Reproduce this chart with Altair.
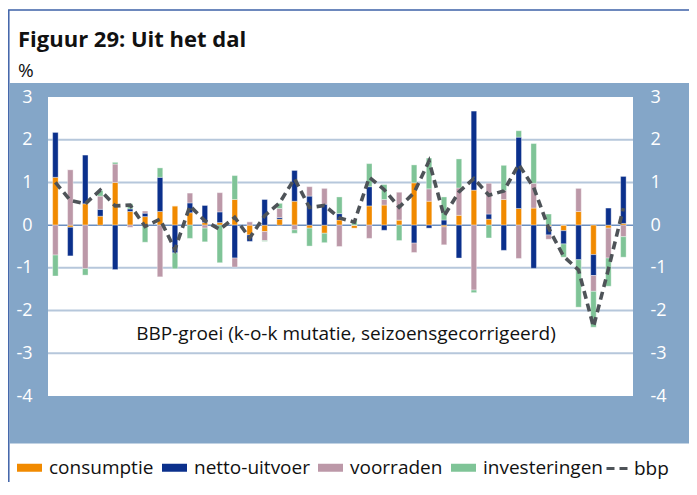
import json
import altair as alt
import pandas as pd

# ---- data ----
years = ["00", "01", "02", "03", "04", "05", "06", "07", "08", "09"]
series_names = ["consumptie", "netto-uitvoer", "voorraden", "investeringen"]
series_colors = ["#F18A00", "#0B308C", "#BC98A8", "#7FC497"]

consumptie = [1.12, -0.05, 0.50, 0.21, 1.00, 0.32, 0.20, 0.32, 0.45, 0.29,
              0.06, 0.06, 0.60, -0.23, -0.15, 0.14, 0.56, -0.07, -0.19, 0.12,
              -0.07, 0.45, 0.47, 0.12, 0.99, 0.56, -0.04, 0.23, 0.82, 0.14,
              0.60, 0.39, 0.40, -0.03, -0.13, 0.32, -0.69, -0.07, 0.04]
netto_uitvoer = [1.05, -0.67, 1.14, 0.16, -1.04, 0.06, 0.08, 0.80, -0.65, 0.23,
                 0.40, 0.25, -0.77, -0.15, 0.60, 0.04, 0.72, 0.68, 0.49, 0.15,
                 0.00, 0.45, -0.12, 0.00, -0.42, -0.07, 0.12, -0.77, 1.85, 0.12,
                 -0.59, 1.67, -1.01, -0.20, -0.31, -0.81, -0.49, 0.40, 1.10]
voorraden = [-0.70, 1.30, -1.02, 0.31, 0.43, -0.05, 0.05, -1.21, 0.00, 0.23,
             -0.07, 0.45, -0.21, 0.08, -0.21, 0.21, -0.11, 0.22, 0.37, -0.50,
             0.00, -0.31, 0.13, 0.65, -0.22, 0.29, -0.42, 0.64, -1.52, 0.72,
             0.21, -0.78, 0.58, -0.10, 0.00, 0.54, -0.37, -0.70, -0.27]
investeringen = [-0.49, 0.00, -0.15, 0.13, 0.04, 0.12, -0.40, 0.22, -0.37, -0.31,
                 -0.32, -0.88, 0.56, 0.00, -0.02, 0.12, -0.08, -0.42, -0.22, 0.39,
                 0.12, 0.54, 0.35, -0.36, 0.42, 0.72, 0.54, 0.68, -0.06, -0.30,
                 0.59, 0.15, 0.93, 0.26, -0.31, -1.11, -0.84, -0.66, -0.48]
bbp = [1.00, 0.58, 0.50, 0.82, 0.45, 0.47, -0.03, 0.14, -0.57, 0.45,
       0.10, -0.10, 0.18, -0.30, 0.22, 0.52, 1.09, 0.41, 0.46, 0.17,
       0.07, 1.12, 0.83, 0.42, 0.76, 1.50, 0.21, 0.78, 1.09, 0.70,
       0.80, 1.42, 0.88, -0.07, -0.73, -1.05, -2.38, -1.03, 0.40]
grid_values = [-3, -2, -1, 1, 2]

# ---- tables ----
rows = []
for k, vals in enumerate([consumptie, netto_uitvoer, voorraden, investeringen]):
    for t, v in enumerate(vals):
        rows.append({"t": t, "serie": series_names[k], "k": k, "value": v})
bars_df = pd.DataFrame(rows)
line_df = pd.DataFrame({"t": list(range(len(bbp))), "value": bbp, "naam": ["bbp"] * len(bbp)})
grid_df = pd.DataFrame({"v": grid_values})
zero_df = pd.DataFrame({"v": [0]})
one = pd.DataFrame({"a": [0]})

FONT = "Open Sans"
W, H = 585, 299
BAND = "#84A6C8"

xscale = alt.Scale(domain=[-0.16, 38.31], nice=False, zero=False)
yscale = alt.Scale(domain=[-4, 3], nice=False, zero=False)

label_expr = json.dumps(years) + "[floor(datum.value / 4)]"
x_axis = alt.Axis(values=list(range(0, 40, 4)), labelExpr=label_expr, labelColor="white",
                  labelFontSize=18, labelFont=FONT, labelPadding=17, ticks=False,
                  domain=False, grid=False, title=None, zindex=1, labelFlush=False)
y_left = alt.Axis(values=list(range(-4, 4)), labelExpr="'' + datum.value", orient="left",
                  labelColor="white", labelFontSize=18, labelFont=FONT, labelPadding=16,
                  ticks=False, domain=False, grid=False, title=None, zindex=1,
                  labelFlush=False, labelBaseline="middle")
y_right = alt.Axis(values=list(range(-4, 4)), labelExpr="'' + datum.value", orient="right",
                   labelColor="white", labelFontSize=18, labelFont=FONT, labelPadding=17,
                   ticks=False, domain=False, grid=False, title=None, zindex=1,
                   labelFlush=False, labelBaseline="middle")

border = alt.Chart(one).mark_rect(fill="white", stroke="#3E62A8", strokeWidth=1.5).encode(
    x=alt.value(-39.2), x2=alt.value(700), y=alt.value(-87), y2=alt.value(500))
band = alt.Chart(one).mark_rect(fill=BAND).encode(
    x=alt.value(-38.5), x2=alt.value(700), y=alt.value(-14), y2=alt.value(346.5))
plotbg = alt.Chart(one).mark_rect(fill="white").encode(
    x=alt.value(0), x2=alt.value(W), y=alt.value(0), y2=alt.value(H))

grid = alt.Chart(grid_df).mark_rule(color="#B6C7DB", strokeWidth=2).encode(
    x=alt.value(0), x2=alt.value(W),
    y=alt.Y("v:Q", scale=yscale, axis=y_left))
zero = alt.Chart(zero_df).mark_rule(color="#6C8FC0", strokeWidth=1.5).encode(
    x=alt.value(0), x2=alt.value(W),
    y=alt.Y("v:Q", scale=yscale, axis=None))

bars = alt.Chart(bars_df).mark_bar(size=5.5, stroke="#ffffff", strokeWidth=0.7,
                                   strokeOpacity=0.5).encode(
    x=alt.X("t:Q", scale=xscale, axis=x_axis),
    y=alt.Y("value:Q", scale=yscale, stack="zero", axis=None),
    color=alt.Color("serie:N", scale=alt.Scale(domain=series_names, range=series_colors),
                    legend=alt.Legend(orient="none", legendX=-31, legendY=358,
                                      direction="horizontal", title=None, padding=0,
                                      symbolType="M-1,-0.32H1V0.32H-1Z", symbolSize=625,
                                      symbolStrokeWidth=0, labelFontSize=19, labelFont=FONT,
                                      labelColor="#111111", labelOffset=7, columnPadding=8)),
    order=alt.Order("k:Q", sort="ascending"),
)

line = alt.Chart(line_df).mark_line(color="#4E5358", strokeWidth=3.6).encode(
    x=alt.X("t:Q", scale=xscale, axis=None),
    y=alt.Y("value:Q", scale=yscale, axis=y_right),
    strokeDash=alt.StrokeDash("naam:N", scale=alt.Scale(domain=["bbp"], range=[[8, 5]]),
                              legend=alt.Legend(orient="none", legendX=557, legendY=358,
                                                title=None, padding=0, symbolType="stroke",
                                                symbolSize=576, symbolStrokeWidth=3,
                                                symbolStrokeColor="#4E5358",
                                                labelFontSize=19, labelFont=FONT,
                                                labelColor="#111111", labelOffset=2)),
)

note = alt.Chart(one).mark_text(fontSize=19, font=FONT, color="#111111", align="center",
                                baseline="middle").encode(
    x=alt.value(298), y=alt.value(237),
    text=alt.value("BBP-groei (k-o-k mutatie, seizoensgecorrigeerd)"))
title = alt.Chart(one).mark_text(fontSize=22, font=FONT, fontWeight="bold", color="#111111",
                                 align="left", baseline="alphabetic").encode(
    x=alt.value(-30), y=alt.value(-50), text=alt.value("Figuur 29: Uit het dal"))
unit = alt.Chart(one).mark_text(fontSize=19, font=FONT, color="#111111",
                                align="left", baseline="alphabetic").encode(
    x=alt.value(-30), y=alt.value(-20), text=alt.value("%"))

chart = alt.layer(border, band, plotbg, grid, zero, bars, line, note, title, unit).resolve_axis(
    y="independent"
).properties(
    width=W, height=H,
    autosize=alt.AutoSizeParams(type="none"),
    padding={"left": 40, "top": 89, "right": 56, "bottom": 86},
).configure_view(stroke=None)

chart.save("out.html", embed_options={"renderer": "svg", "actions": False})
